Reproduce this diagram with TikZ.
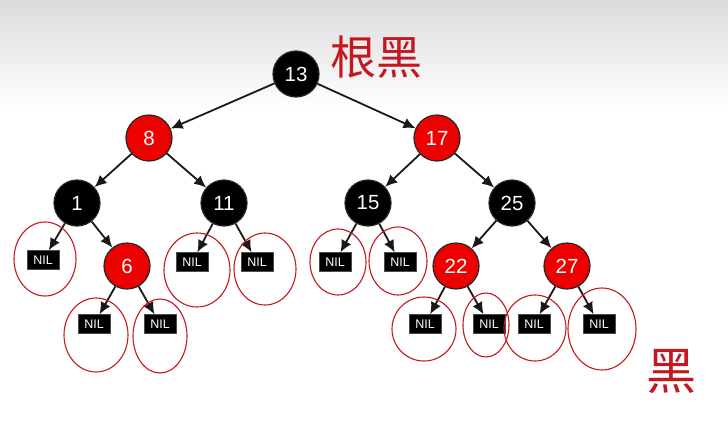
\documentclass[tikz,border=0pt]{standalone}
\usepackage{fontspec}
\setmainfont{Liberation Sans}
\newfontfamily\cjk{Noto Sans CJK SC}
\usepackage{tikz}
\usepackage{xcolor}
\usetikzlibrary{arrows.meta,calc}
\definecolor{rbred}{RGB}{236,0,0}
\definecolor{penred}{RGB}{196,24,32}

\begin{document}
\begin{tikzpicture}[x=1pt, y=-1pt,
    blk/.style = {circle, draw=black!85, line width=1.2pt, fill=black,
      minimum size=46pt, inner sep=0pt, text=white,
      font=\fontsize{20.5}{20}\selectfont},
    rd/.style = {blk, fill=rbred},
    nilbox/.style = {rectangle, fill=black, draw=black!70, text=white,
      minimum width=32pt, minimum height=19pt, inner sep=0pt,
      font=\fontsize{12.5}{12}\selectfont},
    arr/.style = {-{Latex[length=12pt,width=11pt]}, line width=1.8pt, black!90},
    handring/.style = {draw=penred, line width=1.1pt},
    pen/.style = {text=penred, inner sep=0pt}]
    \useasboundingbox (0,0) rectangle (728,442);
    \shade[top color=black!14, bottom color=white] (0,0) rectangle (728,108);

    \node[blk] (n13) at (296,74) {13};
    \node[rd]  (n8)  at (149,138) {8};
    \node[rd]  (n17) at (437,138) {17};
    \node[blk] (n1)  at (77,203) {1};
    \node[blk] (n11) at (224,203) {11};
    \node[blk] (n15) at (368,203) {15};
    \node[blk] (n25) at (512,203) {25};
    \node[rd]  (n6)  at (127,266) {6};
    \node[rd]  (n22) at (456,266) {22};
    \node[rd]  (n27) at (567,266) {27};

    \node[nilbox] (nil1)   at (43,260) {NIL};
    \node[nilbox] (nil11a) at (192,262) {NIL};
    \node[nilbox] (nil11b) at (257,262) {NIL};
    \node[nilbox] (nil15a) at (335,262) {NIL};
    \node[nilbox] (nil15b) at (400,262) {NIL};
    \node[nilbox] (nil6a)  at (94,324) {NIL};
    \node[nilbox] (nil6b)  at (160,324) {NIL};
    \node[nilbox] (nil22a) at (425,324) {NIL};
    \node[nilbox] (nil22b) at (489,324) {NIL};
    \node[nilbox] (nil27a) at (534,324) {NIL};
    \node[nilbox] (nil27b) at (599,324) {NIL};

    \draw[arr] (n13) -- (n8);
    \draw[arr] (n13) -- (n17);
    \draw[arr] (n8) -- (n1);
    \draw[arr] (n8) -- (n11);
    \draw[arr] (n17) -- (n15);
    \draw[arr] (n17) -- (n25);
    \draw[arr] (n1) -- (nil1);
    \draw[arr] (n1) -- (n6);
    \draw[arr] (n11) -- (nil11a);
    \draw[arr] (n11) -- (nil11b);
    \draw[arr] (n15) -- (nil15a);
    \draw[arr] (n15) -- (nil15b);
    \draw[arr] (n25) -- (n22);
    \draw[arr] (n25) -- (n27);
    \draw[arr] (n6) -- (nil6a);
    \draw[arr] (n6) -- (nil6b);
    \draw[arr] (n22) -- (nil22a);
    \draw[arr] (n22) -- (nil22b);
    \draw[arr] (n27) -- (nil27a);
    \draw[arr] (n27) -- (nil27b);

    % hand-drawn rings round the leaves
    \draw[handring] ($(nil1)+(2,-1)$) ellipse [x radius=31pt, y radius=37pt];
    \draw[handring] ($(nil11a)+(5,8)$) ellipse [x radius=33pt, y radius=37pt];
    \draw[handring] ($(nil11b)+(8,7)$) ellipse [x radius=31pt, y radius=36pt];
    \draw[handring] ($(nil15a)+(3,0)$) ellipse [x radius=28pt, y radius=33pt];
    \draw[handring] ($(nil15b)+(-2,-1)$) ellipse [x radius=29pt, y radius=34pt];
    \draw[handring] ($(nil6a)+(2,11)$) ellipse [x radius=32pt, y radius=37pt];
    \draw[handring] ($(nil6b)+(0,12)$) ellipse [x radius=27pt, y radius=37pt];
    \draw[handring] ($(nil22a)+(-1,5)$) ellipse [x radius=32pt, y radius=32pt];
    \draw[handring] ($(nil22b)+(-3,1)$) ellipse [x radius=23pt, y radius=32pt];
    \draw[handring] ($(nil27a)+(1,4)$) ellipse [x radius=31pt, y radius=33pt];
    \draw[handring] ($(nil27b)+(3,5)$) ellipse [x radius=34pt, y radius=41pt];

    \node[pen, font=\cjk\fontsize{46}{46}\selectfont] (rootnote) at (376,57) {根黑};
    \node[pen, font=\cjk\fontsize{50}{50}\selectfont] (leafnote) at (671,372) {黑};
  \end{tikzpicture}
\end{document}
